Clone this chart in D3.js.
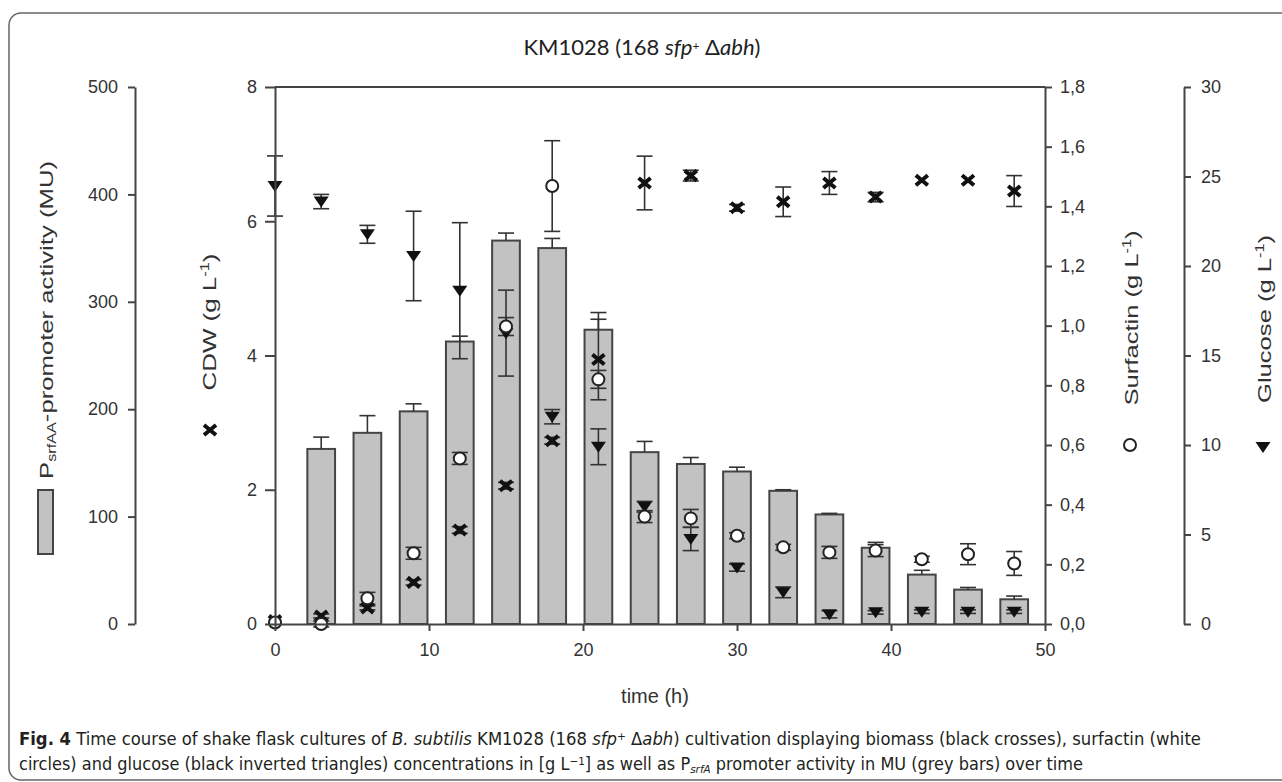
<!DOCTYPE html>
<html>
<head>
<meta charset="utf-8">
<script src="https://cdn.jsdelivr.net/npm/d3@7"></script>
<style>
  body { margin: 0; background: #fff; }
  svg { display: block; }
  .axis path, .axis line { stroke: #444; stroke-width: 2; }
  .axis text { fill: #333; font-family: "Liberation Sans", Arial, sans-serif; font-size: 18px; }
</style>
</head>
<body>
<div id="chart"></div>
<script>
// sampling times (h)
var times = [0, 3, 6, 9, 12, 15, 18, 21, 24, 27, 30, 33, 36, 39, 42, 45, 48];
// PsrfAA promoter activity (MU), grey bars
var promoter = [null, 163, 178, 198, 263, 357, 350, 274, 160, 149, 142, 124, 102, 71, 46, 32, 23];
var promoterErr = [null, 11, 16, 7, 5, 7, 9, 16, 10, 6, 4, 1, 1, 5, 4, 2, 3];
// CDW (g/L), black crosses
var cdw = [0.05, 0.12, 0.24, 0.62, 1.40, 2.06, 2.73, 3.94, 6.57, 6.68, 6.20, 6.29, 6.57, 6.36, 6.61, 6.61, 6.45];
var cdwErr = [0, 0.03, 0.03, 0.04, 0.05, 0.05, 0.05, 0.6, 0.40, 0.08, 0.05, 0.22, 0.17, 0.07, 0, 0, 0.23];
// surfactin (g/L), white circles
var surfactin = [0.005, 0.0, 0.086, 0.237, 0.555, 0.997, 1.468, 0.82, 0.36, 0.354, 0.296, 0.257, 0.240, 0.246, 0.217, 0.234, 0.203];
var surfactinErr = [0, 0.01, 0.02, 0.02, 0.02, 0.03, 0.152, 0.03, 0.02, 0.03, 0.01, 0.01, 0.02, 0.02, 0.01, 0.035, 0.04];
// glucose (g/L), black inverted triangles
var glucose = [24.47, 23.6, 21.77, 20.56, 18.62, 16.25, 11.58, 9.9, 6.55, 4.75, 3.15, 1.77, 0.54, 0.65, 0.69, 0.69, 0.69];
var glucoseErr = [1.68, 0.4, 0.5, 2.5, 3.8, 2.4, 0.4, 1.0, 0.3, 0.65, 0.2, 0.3, 0.2, 0.1, 0.1, 0.1, 0.1];

var xTicks = [0, 10, 20, 30, 40, 50];
var promTicks = [0, 100, 200, 300, 400, 500];
var cdwTicks = [0, 2, 4, 6, 8];
var surfTicks = [0, 0.2, 0.4, 0.6, 0.8, 1.0, 1.2, 1.4, 1.6, 1.8];
var gluTicks = [0, 5, 10, 15, 20, 25, 30];

var W = 1282, H = 782;
var plotL = 275, plotR = 1045, plotT = 87, plotB = 624;

var svg = d3.select('#chart').append('svg')
    .attr('width', W)
    .attr('height', H);

// figure frame
svg.append('rect')
    .attr('x', 9).attr('y', 13)
    .attr('width', 1300).attr('height', 767)
    .attr('rx', 12)
    .attr('fill', 'none')
    .attr('stroke', '#666')
    .attr('stroke-width', 1.5);

var x = d3.scaleLinear().domain([0, 50]).range([plotL, plotR]);
var yProm = d3.scaleLinear().domain([0, 500]).range([plotB, plotT]);
var yCdw = d3.scaleLinear().domain([0, 8]).range([plotB, plotT]);
var ySurf = d3.scaleLinear().domain([0, 1.8]).range([plotB, plotT]);
var yGlu = d3.scaleLinear().domain([0, 30]).range([plotB, plotT]);

var rows = times.map(function(t, i) {
    return {
        t: t,
        prom: promoter[i], promErr: promoterErr[i],
        cdw: cdw[i], cdwErr: cdwErr[i],
        surf: surfactin[i], surfErr: surfactinErr[i],
        glu: glucose[i], gluErr: glucoseErr[i]
    };
});

// top frame line of the plot box
svg.append('line')
    .attr('x1', plotL).attr('x2', plotR)
    .attr('y1', plotT).attr('y2', plotT)
    .attr('stroke', '#444').attr('stroke-width', 2);

// bars
var barW = x(1.8) - x(0);
var barRows = rows.filter(function(d) { return d.prom != null; });
svg.append('g').selectAll('rect')
    .data(barRows)
    .enter()
    .append('rect')
    .attr('x', function(d) { return x(d.t) - barW / 2; })
    .attr('y', function(d) { return yProm(d.prom); })
    .attr('width', barW)
    .attr('height', function(d) { return plotB - yProm(d.prom); })
    .attr('fill', '#c2c2c2')
    .attr('stroke', '#444')
    .attr('stroke-width', 2);

// error bars
function errBars(data, val, err, scale, upOnly) {
    var g = svg.append('g')
        .attr('stroke', '#333')
        .attr('stroke-width', 1.6);
    data.filter(function(d) { return err(d) > 0; }).forEach(function(d) {
        var cx = x(d.t);
        var hi = scale(val(d) + err(d));
        var lo = upOnly ? scale(val(d)) : scale(val(d) - err(d));
        g.append('line').attr('x1', cx).attr('x2', cx).attr('y1', hi).attr('y2', lo);
        g.append('line').attr('x1', cx - 8).attr('x2', cx + 8).attr('y1', hi).attr('y2', hi);
        if (!upOnly) {
            g.append('line').attr('x1', cx - 8).attr('x2', cx + 8).attr('y1', lo).attr('y2', lo);
        }
    });
}
errBars(barRows, function(d) { return d.prom; }, function(d) { return d.promErr; }, yProm, true);
errBars(rows, function(d) { return d.glu; }, function(d) { return d.gluErr; }, yGlu, false);
errBars(rows, function(d) { return d.cdw; }, function(d) { return d.cdwErr; }, yCdw, false);
errBars(rows, function(d) { return d.surf; }, function(d) { return d.surfErr; }, ySurf, false);

var triPath = 'M-7.5,-5L7.5,-5L0,6Z';
var crossPath = 'M-6,-5L6,5M-6,5L6,-5';

// glucose triangles
svg.append('g').selectAll('path')
    .data(rows)
    .enter()
    .append('path')
    .attr('d', triPath)
    .attr('transform', function(d) { return 'translate(' + x(d.t) + ',' + yGlu(d.glu) + ')'; })
    .attr('fill', '#111');

// CDW crosses
svg.append('g').selectAll('path')
    .data(rows)
    .enter()
    .append('path')
    .attr('d', crossPath)
    .attr('transform', function(d) { return 'translate(' + x(d.t) + ',' + yCdw(d.cdw) + ')'; })
    .attr('stroke', '#111')
    .attr('stroke-width', 4)
    .attr('fill', 'none');

// surfactin circles
svg.append('g').selectAll('circle')
    .data(rows)
    .enter()
    .append('circle')
    .attr('cx', function(d) { return x(d.t); })
    .attr('cy', function(d) { return ySurf(d.surf); })
    .attr('r', 6)
    .attr('fill', '#fff')
    .attr('stroke', '#222')
    .attr('stroke-width', 2);

// axes
svg.append('g')
    .attr('class', 'axis')
    .attr('transform', 'translate(0,' + plotB + ')')
    .call(d3.axisBottom(x).tickValues(xTicks).tickSize(7).tickSizeOuter(0).tickPadding(12));

svg.append('g')
    .attr('class', 'axis')
    .attr('transform', 'translate(' + plotL + ',0)')
    .call(d3.axisLeft(yCdw).tickValues(cdwTicks).tickSize(10).tickSizeOuter(0).tickPadding(8));

svg.append('g')
    .attr('class', 'axis')
    .attr('transform', 'translate(135,0)')
    .call(d3.axisLeft(yProm).tickValues(promTicks).tickSize(7).tickSizeOuter(0).tickPadding(10));

svg.append('g')
    .attr('class', 'axis')
    .attr('transform', 'translate(' + plotR + ',0)')
    .call(d3.axisRight(ySurf).tickValues(surfTicks).tickSize(7).tickSizeOuter(0).tickPadding(8)
        .tickFormat(function(d) { return d3.format('.1f')(d).replace('.', ','); }));

svg.append('g')
    .attr('class', 'axis')
    .attr('transform', 'translate(1184,0)')
    .call(d3.axisRight(yGlu).tickValues(gluTicks).tickSize(7).tickSizeOuter(0).tickPadding(10));

// title
var title = svg.append('text')
    .attr('x', 642).attr('y', 55)
    .attr('text-anchor', 'middle')
    .style('font-family', 'Lato, "Open Sans", sans-serif')
    .style('font-size', '22px')
    .style('fill', '#222');
title.append('tspan').text('KM1028 (168 ');
title.append('tspan').style('font-style', 'italic').text('sfp');
title.append('tspan').attr('baseline-shift', '45%').style('font-size', '12px').text('+');
title.append('tspan').text(' Δ');
title.append('tspan').style('font-style', 'italic').text('abh');
title.append('tspan').text(')');

// x axis title
svg.append('text')
    .attr('x', 655).attr('y', 703)
    .attr('text-anchor', 'middle')
    .style('font-family', '"Liberation Sans", Arial, sans-serif')
    .style('font-size', '20px')
    .style('fill', '#333')
    .text('time (h)');

// rotated axis titles
function yTitle(cx, cy, len, parts) {
    var t = svg.append('text')
        .attr('transform', 'translate(' + cx + ',' + cy + ') rotate(-90)')
        .attr('text-anchor', 'middle')
        .attr('textLength', len)
        .attr('lengthAdjust', 'spacingAndGlyphs')
        .style('font-family', '"Liberation Sans", Arial, sans-serif')
        .style('font-size', '19px')
        .style('fill', '#333');
    parts.forEach(function(p) {
        var s = t.append('tspan').text(p.s);
        if (p.sub) s.attr('baseline-shift', '-25%').style('font-size', '12px');
        if (p.sup) s.attr('baseline-shift', '55%').style('font-size', '12px');
    });
}
yTitle(53, 320, 318, [{s: 'P'}, {s: 'srfAA', sub: true}, {s: '-promoter activity (MU)'}]);
yTitle(216, 322, 137, [{s: 'CDW (g L'}, {s: '-1', sup: true}, {s: ')'}]);
yTitle(1138, 318, 175, [{s: 'Surfactin (g L'}, {s: '-1', sup: true}, {s: ')'}]);
yTitle(1271, 319, 168, [{s: 'Glucose (g L'}, {s: '-1', sup: true}, {s: ')'}]);

// legend symbols next to axis titles
svg.append('rect')
    .attr('x', 38).attr('y', 490)
    .attr('width', 15).attr('height', 64)
    .attr('fill', '#c2c2c2')
    .attr('stroke', '#444')
    .attr('stroke-width', 2);
svg.append('path')
    .attr('d', crossPath)
    .attr('transform', 'translate(210,430)')
    .attr('stroke', '#111').attr('stroke-width', 4).attr('fill', 'none');
svg.append('circle')
    .attr('cx', 1130).attr('cy', 445).attr('r', 6)
    .attr('fill', '#fff').attr('stroke', '#222').attr('stroke-width', 2);
svg.append('path')
    .attr('d', triPath)
    .attr('transform', 'translate(1263,447)')
    .attr('fill', '#111');

// caption
function caption(y, len, parts) {
    var t = svg.append('text')
        .attr('x', 19).attr('y', y)
        .attr('textLength', len)
        .attr('lengthAdjust', 'spacingAndGlyphs')
        .style('font-family', '"Liberation Sans Narrow", "DejaVu Sans Condensed", "Liberation Sans", sans-serif')
        .style('font-size', '17px')
        .style('fill', '#231f20');
    parts.forEach(function(p) {
        var s = t.append('tspan').text(p.s);
        if (p.b) s.style('font-weight', 'bold');
        if (p.i) s.style('font-style', 'italic');
        if (p.sub) s.attr('baseline-shift', '-30%').style('font-size', '11px');
        if (p.sup) s.attr('baseline-shift', '45%').style('font-size', '11px');
    });
}
caption(745, 1182, [
    {s: 'Fig. 4', b: true},
    {s: '  Time course of shake flask cultures of '},
    {s: 'B. subtilis', i: true},
    {s: ' KM1028 (168 '},
    {s: 'sfp', i: true},
    {s: '+', sup: true},
    {s: ' Δ'},
    {s: 'abh', i: true},
    {s: ') cultivation displaying biomass (black crosses), surfactin (white'}
]);
caption(770, 1064, [
    {s: 'circles) and glucose (black inverted triangles) concentrations in [g L'},
    {s: '−1', sup: true},
    {s: '] as well as P'},
    {s: 'srfA', sub: true, i: true},
    {s: ' promoter activity in MU (grey bars) over time'}
]);
</script>
</body>
</html>
